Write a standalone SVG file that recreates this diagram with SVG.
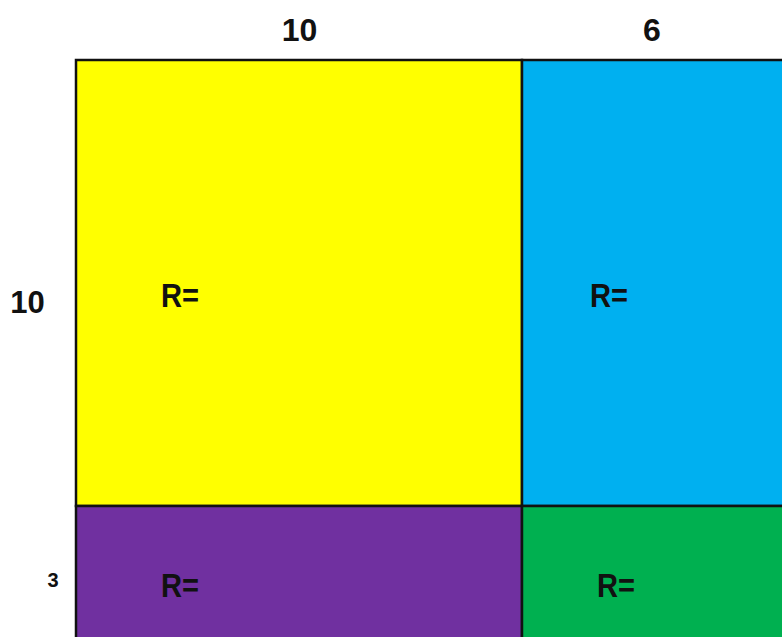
<svg xmlns="http://www.w3.org/2000/svg" width="782" height="637" viewBox="0 0 782 637">
<style>
.cell{stroke:#111;stroke-width:2.5}
.lbl{font-family:"Liberation Sans",Arial,sans-serif;font-weight:bold;fill:#111}
.r{font-size:33px}
</style>
<rect width="782" height="637" fill="#fff"/>
<g id="yellow"><rect class="cell" x="76" y="60" width="446" height="446" fill="#FFFF00"/><text class="lbl r" x="161" y="307" textLength="38" lengthAdjust="spacingAndGlyphs">R=</text></g>
<g id="blue"><rect class="cell" x="522" y="60" width="270" height="446" fill="#00B0F0"/><text class="lbl r" x="590" y="307" textLength="38" lengthAdjust="spacingAndGlyphs">R=</text></g>
<g id="purple"><rect class="cell" x="76" y="506" width="446" height="140" fill="#7030A0"/><text class="lbl r" x="161" y="597" textLength="38" lengthAdjust="spacingAndGlyphs">R=</text></g>
<g id="green"><rect class="cell" x="522" y="506" width="270" height="140" fill="#00B050"/><text class="lbl r" x="597" y="597" textLength="38" lengthAdjust="spacingAndGlyphs">R=</text></g>
<g id="labels">
<text class="lbl" x="299.5" y="41" font-size="32" text-anchor="middle">10</text>
<text class="lbl" x="652" y="41" font-size="32" text-anchor="middle">6</text>
<text class="lbl" x="27.5" y="313" font-size="31" text-anchor="middle">10</text>
<text class="lbl" x="53" y="587" font-size="20" text-anchor="middle">3</text>
</g>
</svg>
